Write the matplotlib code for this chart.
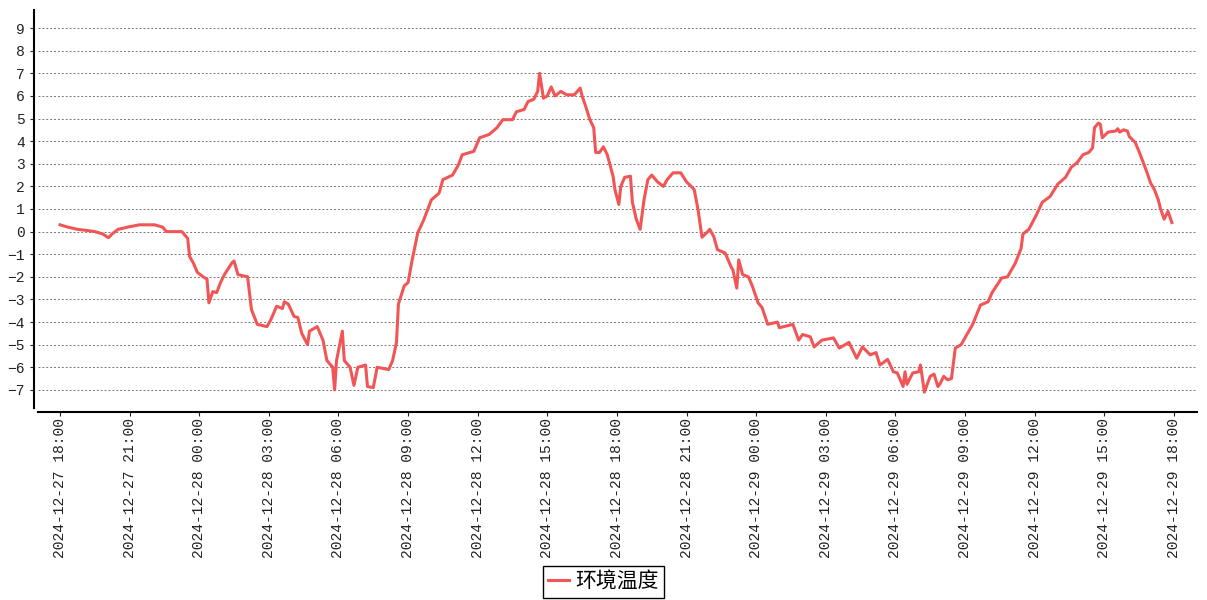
import matplotlib
matplotlib.use("Agg")
import matplotlib.pyplot as plt
import matplotlib.dates as mdates
import pandas as pd

plt.rcParams['font.family'] = ['Liberation Mono', 'Noto Sans CJK SC']
plt.rcParams['axes.unicode_minus'] = True

# readings (time, temperature)
times = [
    "2024-12-27 18:00", "2024-12-27 18:20", "2024-12-27 18:45", "2024-12-27 19:10", "2024-12-27 19:30",
    "2024-12-27 19:50", "2024-12-27 20:05", "2024-12-27 20:15", "2024-12-27 20:30", "2024-12-27 20:55",
    "2024-12-27 21:25", "2024-12-27 22:05", "2024-12-27 22:25", "2024-12-27 22:35", "2024-12-27 23:15",
    "2024-12-27 23:30", "2024-12-27 23:35", "2024-12-27 23:45", "2024-12-27 23:55", "2024-12-28 00:10",
    "2024-12-28 00:20", "2024-12-28 00:25", "2024-12-28 00:35", "2024-12-28 00:45", "2024-12-28 00:55",
    "2024-12-28 01:05", "2024-12-28 01:25", "2024-12-28 01:30", "2024-12-28 01:40", "2024-12-28 02:05",
    "2024-12-28 02:15", "2024-12-28 02:30", "2024-12-28 02:55", "2024-12-28 03:05", "2024-12-28 03:20",
    "2024-12-28 03:35", "2024-12-28 03:40", "2024-12-28 03:50", "2024-12-28 04:05", "2024-12-28 04:15",
    "2024-12-28 04:25", "2024-12-28 04:40", "2024-12-28 04:45", "2024-12-28 05:05", "2024-12-28 05:20",
    "2024-12-28 05:30", "2024-12-28 05:45", "2024-12-28 05:50", "2024-12-28 05:55", "2024-12-28 06:10",
    "2024-12-28 06:15", "2024-12-28 06:30", "2024-12-28 06:40", "2024-12-28 06:50", "2024-12-28 07:10",
    "2024-12-28 07:15", "2024-12-28 07:30", "2024-12-28 07:40", "2024-12-28 08:10", "2024-12-28 08:20",
    "2024-12-28 08:30", "2024-12-28 08:35", "2024-12-28 08:50", "2024-12-28 09:00", "2024-12-28 09:10",
    "2024-12-28 09:25", "2024-12-28 09:40", "2024-12-28 10:00", "2024-12-28 10:20", "2024-12-28 10:30",
    "2024-12-28 10:55", "2024-12-28 11:10", "2024-12-28 11:20", "2024-12-28 11:50", "2024-12-28 12:05",
    "2024-12-28 12:30", "2024-12-28 12:50", "2024-12-28 13:05", "2024-12-28 13:30", "2024-12-28 13:40",
    "2024-12-28 14:00", "2024-12-28 14:10", "2024-12-28 14:25", "2024-12-28 14:35", "2024-12-28 14:40",
    "2024-12-28 14:50", "2024-12-28 15:00", "2024-12-28 15:10", "2024-12-28 15:20", "2024-12-28 15:35",
    "2024-12-28 15:50", "2024-12-28 16:10", "2024-12-28 16:25", "2024-12-28 16:30", "2024-12-28 16:40",
    "2024-12-28 16:50", "2024-12-28 17:00", "2024-12-28 17:05", "2024-12-28 17:15", "2024-12-28 17:25",
    "2024-12-28 17:35", "2024-12-28 17:50", "2024-12-28 17:55", "2024-12-28 18:05", "2024-12-28 18:10",
    "2024-12-28 18:20", "2024-12-28 18:35", "2024-12-28 18:40", "2024-12-28 18:50", "2024-12-28 19:00",
    "2024-12-28 19:10", "2024-12-28 19:20", "2024-12-28 19:30", "2024-12-28 19:45", "2024-12-28 20:00",
    "2024-12-28 20:10", "2024-12-28 20:25", "2024-12-28 20:45", "2024-12-28 21:00", "2024-12-28 21:15",
    "2024-12-28 21:20", "2024-12-28 21:30", "2024-12-28 21:40", "2024-12-28 21:55", "2024-12-28 22:00",
    "2024-12-28 22:10", "2024-12-28 22:20", "2024-12-28 22:40", "2024-12-28 22:55", "2024-12-28 23:00",
    "2024-12-28 23:10", "2024-12-28 23:15", "2024-12-28 23:25", "2024-12-28 23:40", "2024-12-28 23:50",
    "2024-12-29 00:05", "2024-12-29 00:15", "2024-12-29 00:30", "2024-12-29 00:55", "2024-12-29 01:00",
    "2024-12-29 01:35", "2024-12-29 01:50", "2024-12-29 02:00", "2024-12-29 02:20", "2024-12-29 02:30",
    "2024-12-29 02:50", "2024-12-29 03:20", "2024-12-29 03:35", "2024-12-29 04:00", "2024-12-29 04:20",
    "2024-12-29 04:35", "2024-12-29 04:55", "2024-12-29 05:10", "2024-12-29 05:20", "2024-12-29 05:40",
    "2024-12-29 05:55", "2024-12-29 06:05", "2024-12-29 06:20", "2024-12-29 06:25", "2024-12-29 06:30",
    "2024-12-29 06:45", "2024-12-29 07:00", "2024-12-29 07:05", "2024-12-29 07:15", "2024-12-29 07:30",
    "2024-12-29 07:40", "2024-12-29 07:50", "2024-12-29 07:55", "2024-12-29 08:05", "2024-12-29 08:15",
    "2024-12-29 08:25", "2024-12-29 08:35", "2024-12-29 08:50", "2024-12-29 09:00", "2024-12-29 09:20",
    "2024-12-29 09:40", "2024-12-29 10:00", "2024-12-29 10:10", "2024-12-29 10:35", "2024-12-29 10:50",
    "2024-12-29 11:10", "2024-12-29 11:25", "2024-12-29 11:30", "2024-12-29 11:45", "2024-12-29 12:05",
    "2024-12-29 12:20", "2024-12-29 12:40", "2024-12-29 13:00", "2024-12-29 13:20", "2024-12-29 13:35",
    "2024-12-29 13:50", "2024-12-29 14:05", "2024-12-29 14:20", "2024-12-29 14:30", "2024-12-29 14:35",
    "2024-12-29 14:45", "2024-12-29 14:50", "2024-12-29 14:55", "2024-12-29 15:10", "2024-12-29 15:30",
    "2024-12-29 15:35", "2024-12-29 15:40", "2024-12-29 15:50", "2024-12-29 16:00", "2024-12-29 16:05",
    "2024-12-29 16:20", "2024-12-29 16:30", "2024-12-29 16:40", "2024-12-29 16:50", "2024-12-29 17:00",
    "2024-12-29 17:10", "2024-12-29 17:20", "2024-12-29 17:25", "2024-12-29 17:35", "2024-12-29 17:45",
    "2024-12-29 17:55",
]
temps = [
    0.3, 0.2, 0.1, 0.05, 0.0,
    -0.1, -0.27, -0.1, 0.1, 0.2,
    0.3, 0.3, 0.2, 0.0, 0.0,
    -0.3, -1.1, -1.4, -1.8, -2.0,
    -2.1, -3.15, -2.65, -2.7, -2.25,
    -1.9, -1.37, -1.3, -1.9, -2.0,
    -3.45, -4.1, -4.2, -3.9, -3.3,
    -3.4, -3.1, -3.2, -3.75, -3.8,
    -4.5, -5.0, -4.4, -4.2, -4.8,
    -5.7, -6.0, -7.0, -5.7, -4.4,
    -5.7, -6.0, -6.8, -6.0, -5.9,
    -6.85, -6.9, -6.0, -6.1, -5.7,
    -4.9, -3.2, -2.4, -2.25, -1.3,
    -0.05, 0.5, 1.4, 1.7, 2.3,
    2.5, 2.95, 3.4, 3.55, 4.15,
    4.3, 4.6, 4.95, 4.95, 5.3,
    5.4, 5.75, 5.85, 6.2, 7.0,
    5.9, 6.0, 6.4, 6.0, 6.2,
    6.05, 6.05, 6.35, 6.0, 5.5,
    4.95, 4.6, 3.5, 3.5, 3.75,
    3.4, 2.45, 1.85, 1.2, 2.0,
    2.4, 2.45, 1.3, 0.55, 0.1,
    1.4, 2.3, 2.5, 2.2, 2.0,
    2.3, 2.6, 2.6, 2.2, 1.95,
    1.85, 0.95, -0.25, 0.0, 0.1,
    -0.2, -0.8, -0.95, -1.55, -1.7,
    -2.5, -1.25, -1.9, -2.0, -2.4,
    -3.15, -3.35, -4.1, -4.0, -4.25,
    -4.1, -4.8, -4.55, -4.65, -5.1,
    -4.8, -4.7, -5.15, -4.9, -5.6,
    -5.1, -5.45, -5.35, -5.9, -5.65,
    -6.2, -6.25, -6.85, -6.2, -6.75,
    -6.25, -6.2, -5.9, -7.1, -6.4,
    -6.3, -6.85, -6.75, -6.4, -6.55,
    -6.5, -5.15, -5.0, -4.7, -4.1,
    -3.25, -3.1, -2.7, -2.05, -2.0,
    -1.4, -0.75, -0.1, 0.1, 0.75,
    1.3, 1.55, 2.1, 2.4, 2.85,
    3.05, 3.4, 3.5, 3.7, 4.6,
    4.8, 4.75, 4.15, 4.4, 4.45,
    4.55, 4.4, 4.5, 4.45, 4.2,
    3.95, 3.55, 3.1, 2.65, 2.15,
    1.85, 1.4, 1.05, 0.55, 0.9,
    0.4,
]
tick_times = pd.date_range("2024-12-27 18:00", "2024-12-29 18:00", freq="3h")
y_ticks = list(range(-7, 10))
series_name = "环境温度"

x = pd.to_datetime(times)

fig = plt.figure(figsize=(12.07, 6.0), dpi=100)
ax = fig.add_axes([38 / 1207, 1 - 408 / 600, (1197 - 38) / 1207, 398 / 600])

ax.plot(x, temps, color='#f25555', lw=2.2, label=series_name)

ax.set_xlim(pd.Timestamp("2024-12-27 17:03"), pd.Timestamp("2024-12-29 19:00"))
ax.set_ylim(-7.8, 9.8)
ax.set_yticks(y_ticks)
ax.set_xticks(tick_times)
ax.xaxis.set_major_formatter(mdates.DateFormatter("%Y-%m-%d %H:%M"))
ax.tick_params(axis='x', labelrotation=90, pad=1)

ax.grid(axis='y', linestyle=(0, (2, 2)), color='#777777', lw=0.7)
ax.set_axisbelow(True)
for s in ['top', 'right']:
    ax.spines[s].set_visible(False)
ax.spines['left'].set_position(('outward', 3))
ax.spines['bottom'].set_position(('outward', 3))
ax.spines['left'].set_linewidth(1.5)
ax.spines['bottom'].set_linewidth(1.5)
ax.tick_params(axis='both', labelsize=10.5, length=3, width=0.8, colors='#222222', labelcolor='#222222')

fig.legend(loc='lower center', bbox_to_anchor=(0.5, 0.0), frameon=True, fancybox=False,
           edgecolor='black', framealpha=1, handlelength=1.0, handletextpad=0.3,
           borderpad=0.25, borderaxespad=0.1, prop={'family': 'Noto Sans CJK SC', 'size': 15})

fig.savefig("out.png", dpi=100)
